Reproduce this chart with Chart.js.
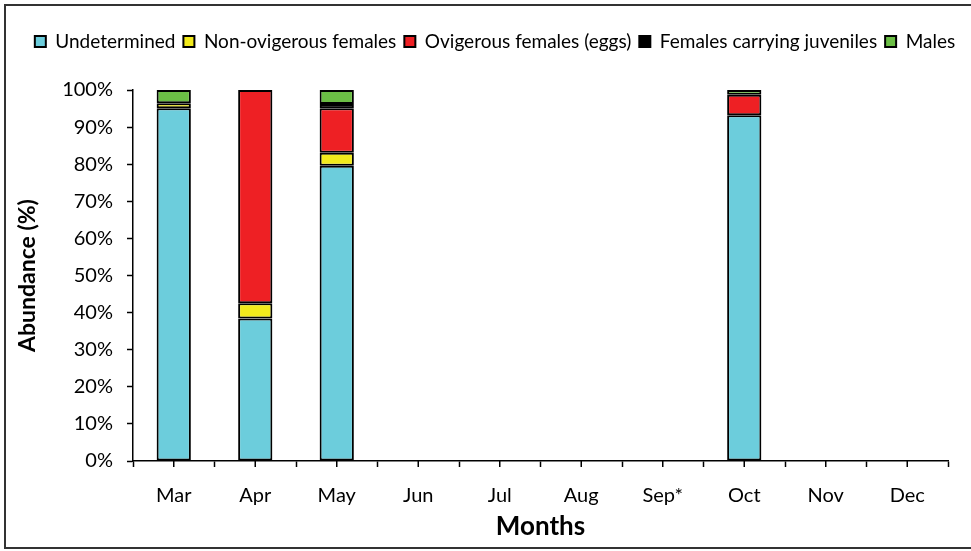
<!DOCTYPE html>
<html>
<head>
<meta charset="utf-8">
<script src="https://cdn.jsdelivr.net/npm/chart.js@4"></script>
<style>
  body { margin: 0; background: #fff; overflow: hidden; }
  canvas { display: block; }
</style>
</head>
<body>
<canvas id="chart" width="971" height="551"></canvas>
<script>
const months = ['Mar', 'Apr', 'May', 'Jun', 'Jul', 'Aug', 'Sep*', 'Oct', 'Nov', 'Dec'];
const undetermined = [95.1, 38.4, 79.6, null, null, null, null, 93.2, null, null];
const nonOvigerous = [1.3, 4.1, 3.5, null, null, null, null, null, null, null];
const ovigerous = [null, 57.5, 12.0, null, null, null, null, 5.5, null, null];
const carryingJuveniles = [null, null, 1.1, null, null, null, null, null, null, null];
const males = [3.6, null, 3.8, null, null, null, null, 1.3, null, null];
const yTicks = [0, 10, 20, 30, 40, 50, 60, 70, 80, 90, 100];

const font = 'Lato';

// small tick marks under the x axis at bar centres
const centreTicks = {
    id: 'centreTicks',
    afterDraw(chart) {
        const x = chart.scales.x;
        const ctx = chart.ctx;
        ctx.save();
        ctx.strokeStyle = '#000';
        ctx.lineWidth = 1.5;
        months.forEach((m, i) => {
            const px = x.getPixelForValue(i);
            ctx.beginPath();
            ctx.moveTo(px, x.top);
            ctx.lineTo(px, x.top + 6);
            ctx.stroke();
        });
        ctx.restore();
    }
};

// outer frame (left, top, bottom edges only - right side is cut off in the original)
const frame = {
    id: 'frame',
    afterDraw(chart) {
        const ctx = chart.ctx;
        ctx.save();
        ctx.strokeStyle = '#333';
        ctx.lineWidth = 2;
        ctx.beginPath();
        ctx.moveTo(chart.width, 5);
        ctx.lineTo(5, 5);
        ctx.lineTo(5, 548);
        ctx.lineTo(chart.width, 548);
        ctx.stroke();
        ctx.restore();
    }
};

// extra room between legend and plot, and nudge legend right
const legendGap = {
    id: 'legendGap',
    beforeInit(chart) {
        const fit = chart.legend.fit;
        chart.legend.fit = function () {
            fit.bind(chart.legend)();
            this.height += 29;
        };
    },
    afterLayout(chart) {
        chart.legend.left += 16;
        chart.legend.right += 16;
    }
};

const ds = (label, data, color) => ({
    label: label,
    data: data,
    backgroundColor: color,
    borderColor: '#000',
    borderWidth: 2,
    borderSkipped: false,
    categoryPercentage: 1,
    barPercentage: 0.42
});

new Chart(document.getElementById('chart').getContext('2d'), {
    type: 'bar',
    data: {
        labels: months,
        datasets: [
            ds('Undetermined', undetermined, '#6CCDDC'),
            ds('Non-ovigerous females', nonOvigerous, '#F2EA1C'),
            ds('Ovigerous females (eggs)', ovigerous, '#EE2024'),
            ds('Females carrying juveniles', carryingJuveniles, '#000000'),
            ds('Males', males, '#6BBE45')
        ]
    },
    options: {
        responsive: false,
        animation: false,
        layout: { padding: { left: 10, right: 23, top: 24, bottom: 5 } },
        plugins: {
            legend: {
                position: 'top',
                labels: {
                    font: { family: font, size: 19 },
                    color: '#000',
                    boxWidth: 11,
                    boxHeight: 11,
                    padding: 8
                }
            },
            tooltip: { enabled: false }
        },
        scales: {
            x: {
                stacked: true,
                offset: true,
                grid: { offset: true, drawOnChartArea: false, tickLength: 6, tickColor: '#000', tickWidth: 1.5 },
                border: { color: '#000', width: 1.5 },
                ticks: { font: { family: font, size: 20 }, color: '#000', padding: 17 },
                title: { display: true, text: 'Months', font: { family: font, size: 26, weight: 'bold' }, color: '#000', padding: { top: 8 } },
                afterFit: s => { s.height = 85; }
            },
            y: {
                stacked: true,
                min: 0,
                max: 100,
                afterBuildTicks: s => { s.ticks = yTicks.map(v => ({ value: v })); },
                grid: { drawOnChartArea: false, tickLength: 6, tickColor: '#000', tickWidth: 1.5 },
                border: { color: '#000', width: 1.5 },
                ticks: { font: { family: font, size: 20 }, color: '#000', padding: 14, callback: v => v + '%' },
                title: { display: true, text: 'Abundance (%)', font: { family: font, size: 23, weight: 'bold' }, color: '#000', padding: { bottom: 6 } },
                afterFit: s => { s.width = 123; }
            }
        }
    },
    plugins: [centreTicks, legendGap, frame]
});
</script>
</body>
</html>
